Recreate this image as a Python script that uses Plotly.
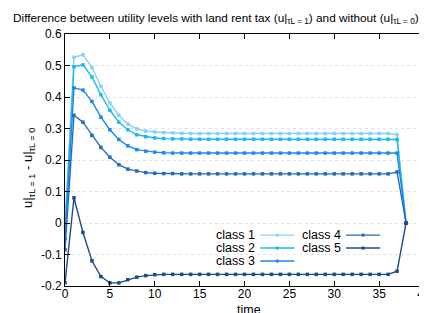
import plotly.graph_objects as go

time = list(range(0, 39))

class1 = [-0.01, 0.526, 0.534, 0.494, 0.434, 0.381, 0.342, 0.314, 0.299, 0.292, 0.289, 0.287, 0.286, 0.285] + [0.284] * 23 + [0.280, 0.0]
class2 = [-0.02, 0.496, 0.502, 0.464, 0.407, 0.358, 0.320, 0.296, 0.280, 0.274, 0.270, 0.268, 0.267, 0.267] + [0.266] * 23 + [0.265, 0.0]
class3 = [-0.05, 0.429, 0.422, 0.386, 0.336, 0.296, 0.265, 0.245, 0.233, 0.228, 0.225, 0.223, 0.222, 0.222] + [0.222] * 23 + [0.222, 0.0]
class4 = [-0.085, 0.342, 0.320, 0.278, 0.240, 0.209, 0.185, 0.171, 0.165, 0.160, 0.158, 0.157, 0.157, 0.156] + [0.156] * 23 + [0.162, 0.0]
class5 = [-0.19, 0.08, -0.03, -0.12, -0.17, -0.19, -0.19, -0.18, -0.172, -0.167, -0.164, -0.163, -0.163, -0.163] + [-0.163] * 23 + [-0.153, 0.0]

names = ["class 1", "class 2", "class 3", "class 4", "class 5"]
series = [class1, class2, class3, class4, class5]
colors = ["#8ccff7", "#18baf0", "#1e88ec", "#2468c0", "#1d4c8c"]

x_ticks = [0, 5, 10, 15, 20, 25, 30, 35, 40]
y_ticks = [-0.2, -0.1, 0, 0.1, 0.2, 0.3, 0.4, 0.5, 0.6]

FONT = "Liberation Sans, Arial"

fig = go.Figure()
for name, ys, c in zip(names, series, colors):
    fig.add_trace(go.Scatter(
        x=time, y=ys, mode="lines+markers", name=name,
        line=dict(color=c, width=1.4),
        marker=dict(color=c, size=3.5, symbol="square"),
        showlegend=False,
    ))

# custom legend (text right-aligned, sample on the right like gnuplot)
leg_rows = [(0, 0), (0, 1), (0, 2), (1, 0), (1, 1)]
for (col, row), name, c in zip(leg_rows, names, colors):
    yc = 0.202 - row * 0.0515
    x_text_right = 0.536 + col * 0.239
    x0 = 0.544 + col * 0.239
    x1 = x0 + 0.095
    fig.add_annotation(x=x_text_right, y=yc, xref="paper", yref="paper",
                       text=name, showarrow=False, xanchor="right", yanchor="middle",
                       font=dict(size=12.5, color="black", family=FONT))
    fig.add_shape(type="line", xref="paper", yref="paper", x0=x0, x1=x1, y0=yc, y1=yc,
                  line=dict(color=c, width=1.4))
    xm = (x0 + x1) / 2
    fig.add_shape(type="rect", xref="paper", yref="paper", x0=xm - 0.004, x1=xm + 0.004,
                  y0=yc - 0.006, y1=yc + 0.006, line=dict(width=0), fillcolor=c)

# title and axis titles as annotations for precise placement
fig.add_annotation(
    x=0.42, y=1, xref="paper", yref="paper", yshift=16, xanchor="center", yanchor="middle",
    text="Difference between utility levels with land rent tax (u|<sub>τL = 1</sub>) and without (u|<sub>τL = 0</sub>)",
    showarrow=False, font=dict(size=11.8, family=FONT, color="black"))
fig.add_annotation(
    x=0.5, y=0, xref="paper", yref="paper", yshift=-32, xshift=4, xanchor="center", yanchor="bottom",
    borderpad=0, text="time", showarrow=False, font=dict(size=12.5, family=FONT, color="black"))
fig.add_annotation(
    x=0, y=0.5, xref="paper", yref="paper", xshift=-37, yshift=-8, xanchor="center", yanchor="middle",
    textangle=-90, text="u|<sub>τL = 1</sub> - u|<sub>τL = 0</sub>",
    showarrow=False, font=dict(size=13, family=FONT, color="black"))

fig.update_layout(
    width=427, height=313,
    margin=dict(l=57, r=11, t=26, b=35, autoexpand=False),
    paper_bgcolor="white", plot_bgcolor="white",
    font=dict(family=FONT, size=12, color="black"),
    xaxis=dict(
        range=[0, 40], tickvals=x_ticks, ticks="inside", ticklen=5, tickcolor="black",
        showline=True, linecolor="black", linewidth=1, mirror="ticks",
        showgrid=False, zeroline=False, automargin=False,
        ticklabelstandoff=-3,
        tickfont=dict(size=12),
    ),
    yaxis=dict(
        range=[-0.2, 0.6], tickvals=y_ticks,
        ticktext=["-0.2", "-0.1", "0", "0.1", "0.2", "0.3", "0.4", "0.5", "0.6"],
        ticks="inside", ticklen=5, tickcolor="black",
        showline=True, linecolor="black", linewidth=1, mirror="ticks",
        showgrid=True, gridcolor="#dde3ea", griddash="dot", gridwidth=1,
        zeroline=False, automargin=False,
        tickfont=dict(size=12),
    ),
)

fig.write_html("out.html")
